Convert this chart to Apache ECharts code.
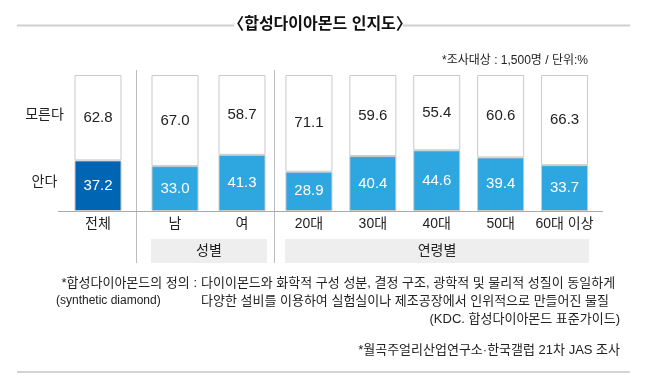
<!DOCTYPE html>
<html>
<head>
<meta charset="utf-8">
<script src="https://cdn.jsdelivr.net/npm/echarts@6/dist/echarts.min.js"></script>
<style>
html,body{margin:0;padding:0;background:#fff;}
#c{width:645px;height:382px;}
</style>
</head>
<body>
<div id="c"></div>
<script>
// ---- data ----
const categories = ['전체', '남', '여', '20대', '30대', '40대', '50대', '60대 이상'];
const knowValues = [37.2, 33.0, 41.3, 28.9, 40.4, 44.6, 39.4, 33.7];      // 안다
const unknownValues = [62.8, 67.0, 58.7, 71.1, 59.6, 55.4, 60.6, 66.3];   // 모른다
const seriesNames = ['안다', '모른다'];
const groupNames = ['성별', '연령별'];
// index ranges of each panel: [start, end)
const panels = [[0, 1], [1, 3], [3, 8]];

const FONT = "'Liberation Sans', 'Noto Sans CJK KR', sans-serif";
const DARK = '#0066b3';
const LIGHT = '#2ea6df';
const BORDER = '#c9c9c9';

const gridDefs = [
  { left: 65, width: 66 },
  { left: 141.5, width: 134 },
  { left: 277, width: 319.5 }
];

const grids = [], xAxes = [], yAxes = [], series = [];
panels.forEach(function (p, i) {
  grids.push({ left: gridDefs[i].left, width: gridDefs[i].width, top: 75, height: 136, containLabel: false });
  xAxes.push({
    type: 'category', gridIndex: i, data: categories.slice(p[0], p[1]),
    axisLine: { show: false }, axisTick: { show: false },
    axisLabel: { interval: 0, fontFamily: FONT, fontSize: 14, color: '#222', margin: 6 }
  });
  yAxes.push({ type: 'value', gridIndex: i, min: 0, max: 100, show: false, splitLine: { show: false } });
  series.push({
    name: seriesNames[0], type: 'bar', stack: 's' + i, xAxisIndex: i, yAxisIndex: i,
    barWidth: 47,
    data: knowValues.slice(p[0], p[1]).map(function (v, k) {
      return { value: v, itemStyle: { color: (p[0] + k) === 0 ? DARK : LIGHT } };
    }),
    itemStyle: { borderColor: BORDER, borderWidth: 1 },
    label: { show: true, position: 'inside', color: '#fff', fontFamily: FONT, fontSize: 15,
      formatter: function (d) { return d.value.toFixed(1); } }
  });
  series.push({
    name: seriesNames[1], type: 'bar', stack: 's' + i, xAxisIndex: i, yAxisIndex: i,
    barWidth: 47,
    data: unknownValues.slice(p[0], p[1]),
    itemStyle: { color: '#fff', borderColor: BORDER, borderWidth: 1 },
    label: { show: true, position: 'inside', color: '#222', fontFamily: FONT, fontSize: 15,
      formatter: function (d) { return d.value.toFixed(1); } }
  });
});

function txt(x, y, s, opt) {
  opt = opt || {};
  return { type: 'text', x: x, y: y, silent: true, style: {
    text: s, fontFamily: FONT, fontSize: opt.size || 13, fontWeight: opt.weight || 'normal',
    fill: opt.color || '#222', align: opt.align || 'left', verticalAlign: 'middle' } };
}
function line(x1, y1, x2, y2, color, w) {
  return { type: 'line', silent: true, shape: { x1: x1, y1: y1, x2: x2, y2: y2 },
    style: { stroke: color, lineWidth: w || 1 } };
}
function rect(x, y, w, h, color) {
  return { type: 'rect', silent: true, shape: { x: x, y: y, width: w, height: h }, style: { fill: color } };
}

const graphics = [
  line(17, 25.5, 234, 25.5, '#cfcfcf', 2),
  line(403, 25.5, 630, 25.5, '#cfcfcf', 2),
  txt(320, 25, '〈합성다이아몬드 인지도〉', { size: 16, weight: 'bold', align: 'center', color: '#111' }),
  txt(588, 61, '*조사대상 : 1,500명 / 단위:%', { size: 12, align: 'right' }),
  txt(44.5, 115, seriesNames[1], { size: 14, align: 'center' }),
  txt(44.5, 182, seriesNames[0], { size: 14, align: 'center' }),
  line(136.5, 70, 136.5, 263, '#bdbdbd', 1),
  line(274.5, 70, 274.5, 263, '#bdbdbd', 1),
  line(58, 211.5, 603, 211.5, '#aaaaaa', 1),
  rect(151, 239, 116, 24, '#eeeeee'),
  rect(285, 239, 304, 24, '#eeeeee'),
  txt(209, 251, groupNames[0], { size: 14, align: 'center' }),
  txt(437, 251, groupNames[1], { size: 14, align: 'center' }),
  txt(197, 283, '*합성다이아몬드의 정의 :', { size: 13, align: 'right' }),
  txt(56, 301, '(synthetic diamond)', { size: 12 }),
  txt(201, 283, '다이이몬드와 화학적 구성 성분, 결정 구조, 광학적 및 물리적 성질이 동일하게', { size: 13 }),
  txt(201, 301, '다양한 설비를 이용하여 실험실이나 제조공장에서 인위적으로 만들어진 물질', { size: 13 }),
  txt(620, 319, '(KDC. 합성다이아몬드 표준가이드)', { size: 13, align: 'right' }),
  txt(620, 350, '*월곡주얼리산업연구소·한국갤럽 21차 JAS 조사', { size: 13, align: 'right' }),
  line(17, 372, 630, 372, '#d3d3d3', 2)
];

const chart = echarts.init(document.getElementById('c'), null, { renderer: 'canvas' });
chart.setOption({
  animation: false,
  backgroundColor: '#fff',
  grid: grids,
  xAxis: xAxes,
  yAxis: yAxes,
  series: series,
  graphic: graphics
});
</script>
</body>
</html>
